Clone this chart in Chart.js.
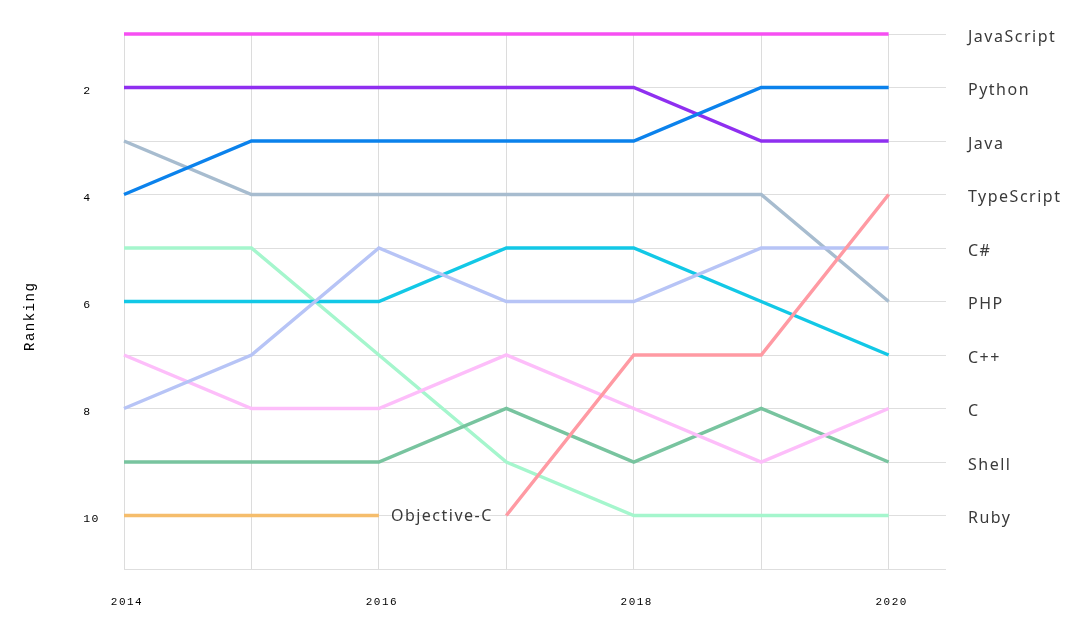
<!DOCTYPE html>
<html>
<head>
<meta charset="utf-8">
<script src="https://cdn.jsdelivr.net/npm/chart.js@4"></script>
<style>
  html, body { margin: 0; padding: 0; background: #fff; }
  #wrap { width: 1070px; height: 627px; }
</style>
</head>
<body>
<div id="wrap"><canvas id="rankChart"></canvas></div>
<script>
const years = [2014, 2015, 2016, 2017, 2018, 2019, 2020];

// rank per year, null = not in the top 10
const javascript = [1, 1, 1, 1, 1, 1, 1];
const python     = [4, 3, 3, 3, 3, 2, 2];
const java       = [2, 2, 2, 2, 2, 3, 3];
const typescript = [null, null, null, 10, 7, 7, 4];
const csharp     = [8, 7, 5, 6, 6, 5, 5];
const php        = [3, 4, 4, 4, 4, 4, 6];
const cpp        = [6, 6, 6, 5, 5, 6, 7];
const c          = [7, 8, 8, 7, 8, 9, 8];
const shell      = [9, 9, 9, 8, 9, 8, 9];
const ruby       = [5, 5, 7, 9, 10, 10, 10];
const objectiveC = [10, 10, 10, null, null, null, null];

// names shown on the right axis, in 2020 order
const finalRanking = ['JavaScript', 'Python', 'Java', 'TypeScript', 'C#', 'PHP', 'C++', 'C', 'Shell', 'Ruby'];
const rankTicks = [1, 2, 3, 4, 5, 6, 7, 8, 9, 10, 11];

const monoFont = 'Liberation Mono, DejaVu Sans Mono, monospace';
const sansFont = 'Noto Sans, Open Sans, sans-serif';

function series(label, data, color) {
  return {
    label: label,
    data: data.map((v, i) => ({ x: years[i], y: v })),
    borderColor: color,
    backgroundColor: color,
    borderWidth: 3.5,
    pointRadius: 0,
    pointHoverRadius: 0,
    tension: 0,
    spanGaps: false,
    fill: false,
    clip: false
  };
}

// letter spacing has to be set again after every canvas resize
const spacing = {
  id: 'spacing',
  beforeLayout(chart) { chart.ctx.letterSpacing = '1.5px'; },
  beforeDraw(chart) { chart.ctx.letterSpacing = '1.5px'; }
};

// "Objective-C" drops out after 2016, so label the end of its line
const endLabel = {
  id: 'endLabel',
  afterDatasetsDraw(chart) {
    const idx = chart.data.datasets.findIndex(d => d.label === 'Objective-C');
    const meta = chart.getDatasetMeta(idx);
    let last = -1;
    objectiveC.forEach((v, i) => { if (v !== null) last = i; });
    const pt = meta.data[last];
    const ctx = chart.ctx;
    ctx.save();
    ctx.letterSpacing = '1.5px';
    ctx.font = '16px ' + sansFont;
    ctx.fillStyle = '#3a3a3a';
    ctx.textAlign = 'left';
    ctx.textBaseline = 'middle';
    ctx.fillText('Objective-C', pt.x + 12, pt.y + 1);
    ctx.restore();
  }
};

const ctx = document.getElementById('rankChart').getContext('2d');
new Chart(ctx, {
  type: 'line',
  data: {
    datasets: [
      series('JavaScript', javascript, '#f64ff2'),
      series('Python', python, '#0b82ec'),
      series('Java', java, '#8f2ff0'),
      series('TypeScript', typescript, '#ff9aa3'),
      series('C#', csharp, '#b7c4f6'),
      series('PHP', php, '#a7bccf'),
      series('C++', cpp, '#12c8e6'),
      series('C', c, '#fdbefa'),
      series('Shell', shell, '#78c49f'),
      series('Ruby', ruby, '#a5f6cd'),
      series('Objective-C', objectiveC, '#f5bd6c')
    ]
  },
  options: {
    responsive: true,
    maintainAspectRatio: false,
    animation: false,
    layout: { padding: { top: 34, left: 0, right: 0, bottom: 0 } },
    plugins: {
      legend: { display: false },
      tooltip: { enabled: false }
    },
    scales: {
      x: {
        type: 'linear',
        min: 2014,
        max: 2020.45,
        afterBuildTicks: (axis) => { axis.ticks = years.map(y => ({ value: y })); },
        afterFit: (scale) => { scale.height = 58; },
        border: { display: false },
        grid: { color: '#dcdcdc', drawTicks: false },
        ticks: {
          autoSkip: false,
          maxRotation: 0,
          padding: 26,
          labelOffset: 3,
          color: '#000',
          font: { family: monoFont, size: 11 },
          callback: (v) => (Math.round(v) % 2 === 0 ? String(Math.round(v)) : '')
        }
      },
      y: {
        type: 'linear',
        position: 'left',
        reverse: true,
        min: 1,
        max: 11,
        afterBuildTicks: (axis) => { axis.ticks = rankTicks.map(r => ({ value: r })); },
        afterFit: (scale) => { scale.width = 124; },
        border: { display: false },
        grid: { color: '#dedede', drawTicks: false },
        title: {
          display: true,
          text: 'Ranking   ',
          color: '#000',
          padding: { top: 22, bottom: 0 },
          font: { family: monoFont, size: 14 }
        },
        ticks: {
          autoSkip: false,
          padding: 24,
          labelOffset: 3,
          color: '#000',
          font: { family: monoFont, size: 11.5 },
          callback: (v) => (v % 2 === 0 ? String(v).padEnd(2) : '')
        }
      },
      names: {
        type: 'linear',
        position: 'right',
        reverse: true,
        min: 1,
        max: 11,
        afterBuildTicks: (axis) => { axis.ticks = rankTicks.map(r => ({ value: r })); },
        afterFit: (scale) => { scale.width = 124; },
        border: { display: false },
        grid: { display: false, drawTicks: false },
        ticks: {
          autoSkip: false,
          padding: 22,
          labelOffset: 3,
          color: '#3a3a3a',
          font: { family: sansFont, size: 16 },
          callback: (v) => finalRanking[v - 1] || ''
        }
      }
    }
  },
  plugins: [spacing, endLabel]
});
</script>
</body>
</html>
